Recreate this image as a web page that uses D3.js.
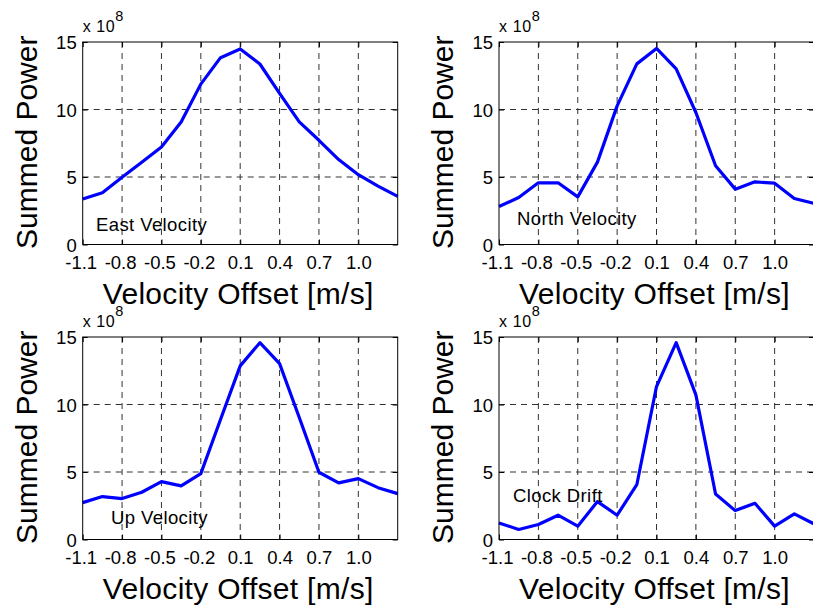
<!DOCTYPE html>
<html>
<head>
<meta charset="utf-8">
<script src="https://cdn.jsdelivr.net/npm/d3@7"></script>
<style>
  html, body { margin: 0; padding: 0; background: #fff; }
  svg { display: block; }
  text { font-family: "Liberation Sans", Arial, Helvetica, sans-serif; fill: #000; }
</style>
</head>
<body>
<svg id="chart" width="813" height="608"></svg>
<script>
// Velocity offsets searched (m/s)
const velocityOffsets = [-1.1, -0.95, -0.8, -0.65, -0.5, -0.35, -0.2, -0.05, 0.1,
                         0.25, 0.4, 0.55, 0.7, 0.85, 1.0, 1.15, 1.3];

// Summed power per offset, in units of 1e8
const eastPower  = [3.37, 3.84, 4.98, 6.10, 7.23, 9.08, 11.88, 13.84, 14.48,
                    13.37, 11.19, 9.08, 7.72, 6.29, 5.17, 4.33, 3.56];
const northPower = [2.81, 3.48, 4.57, 4.57, 3.53, 6.10, 10.27, 13.38, 14.52,
                    13.01, 9.78, 5.83, 4.10, 4.64, 4.54, 3.41, 3.04];
const upPower    = [2.73, 3.18, 3.03, 3.50, 4.29, 3.97, 4.88, 8.89, 12.86,
                    14.58, 13.03, 9.04, 4.98, 4.19, 4.51, 3.84, 3.40];
const clockPower = [1.23, 0.74, 1.11, 1.80, 0.99, 2.81, 1.80, 4.06, 11.33,
                    14.58, 10.71, 3.37, 2.14, 2.68, 0.99, 1.90, 1.16];

const panelNames = ["East Velocity", "North Velocity", "Up Velocity", "Clock Drift"];

// Axis ticks and their printed labels
const xTickValues = [-1.1, -0.8, -0.5, -0.2, 0.1, 0.4, 0.7, 1.0];
const xTickLabels = ["-1.1", "-0.8", "-0.5", "-0.2", "0.1", "0.4", "0.7", "1.0"];
const yTickValues = [0, 5, 10, 15];
const yTickLabels = ["0", "5", "10", "15"];

const xTitle = "Velocity Offset [m/s]";
const yTitle = "Summed Power";

const seriesList = [eastPower, northPower, upPower, clockPower];

// Subplot frames and where each annotation sits inside it
const panels = [
  { left: 82.7, top: 42,  name: panelNames[0], nameX: 96,  nameY: 231 },
  { left: 499,  top: 42,  name: panelNames[1], nameX: 517, nameY: 225 },
  { left: 82.7, top: 337, name: panelNames[2], nameX: 111, nameY: 524 },
  { left: 499,  top: 337, name: panelNames[3], nameX: 513, nameY: 502 }
];
const plotW = 315;
const plotH = 202.5;

const svg = d3.select("#chart");

panels.forEach((p, k) => {
  const g = svg.append("g").attr("transform", `translate(${p.left},${p.top})`);

  const x = d3.scaleLinear().domain([-1.1, 1.3]).range([0, plotW]);
  const y = d3.scaleLinear().domain([0, 15]).range([plotH, 0]);

  // dashed grid
  g.append("g").selectAll("line.vg")
    .data(xTickValues.filter(v => v > -1.1))
    .join("line")
    .attr("x1", d => x(d)).attr("x2", d => x(d))
    .attr("y1", 0).attr("y2", plotH)
    .attr("stroke", "#333").attr("stroke-width", 1)
    .attr("stroke-dasharray", "6,5");
  g.append("g").selectAll("line.hg")
    .data(yTickValues.filter(v => v > 0 && v < 15))
    .join("line")
    .attr("x1", 0).attr("x2", plotW)
    .attr("y1", d => y(d)).attr("y2", d => y(d))
    .attr("stroke", "#333").attr("stroke-width", 1)
    .attr("stroke-dasharray", "6,5");

  // bottom axis: inward ticks, labels below
  const xAxis = d3.axisBottom(x)
    .tickValues(xTickValues)
    .tickSizeInner(-5).tickSizeOuter(0)
    .tickFormat((d, i) => xTickLabels[i]);
  const gx = g.append("g").attr("transform", `translate(0,${plotH})`).call(xAxis);
  gx.attr("font-size", null).attr("font-family", null);
  gx.select(".domain").remove();
  gx.selectAll(".tick line").attr("stroke", "#000");
  gx.selectAll(".tick text")
    .attr("y", 24).attr("dy", null)
    .attr("dx", d => d < 0 ? -2 : 0)
    .style("font-size", "18.5px")
    .attr("fill", "#000");

  // top axis ticks
  const gxt = g.append("g").call(d3.axisTop(x).tickValues(xTickValues)
    .tickSizeInner(-5).tickSizeOuter(0).tickFormat(""));
  gxt.select(".domain").remove();
  gxt.selectAll(".tick line").attr("stroke", "#000");

  // left axis: inward ticks, labels to the left
  const yAxis = d3.axisLeft(y)
    .tickValues(yTickValues)
    .tickSizeInner(-5).tickSizeOuter(0)
    .tickFormat((d, i) => yTickLabels[i]);
  const gy = g.append("g").call(yAxis);
  gy.attr("font-size", null).attr("font-family", null);
  gy.select(".domain").remove();
  gy.selectAll(".tick line").attr("stroke", "#000");
  gy.selectAll(".tick text")
    .attr("x", -6).attr("dy", "0.36em")
    .style("font-size", "18.5px")
    .attr("fill", "#000");

  // right axis ticks
  const gyr = g.append("g").attr("transform", `translate(${plotW},0)`)
    .call(d3.axisRight(y).tickValues(yTickValues).tickSizeInner(-5).tickSizeOuter(0).tickFormat(""));
  gyr.select(".domain").remove();
  gyr.selectAll(".tick line").attr("stroke", "#000");

  // the power curve
  const line = d3.line()
    .x((d, i) => x(velocityOffsets[i]))
    .y(d => y(d));
  g.append("path")
    .datum(seriesList[k])
    .attr("d", line)
    .attr("fill", "none")
    .attr("stroke", "#0000ff")
    .attr("stroke-width", 3.2)
    .attr("stroke-linejoin", "round");

  // plot box
  g.append("rect")
    .attr("x", 0).attr("y", 0)
    .attr("width", plotW).attr("height", plotH)
    .attr("fill", "none").attr("stroke", "#000").attr("stroke-width", 1);

  // panel name
  svg.append("text")
    .attr("x", p.nameX).attr("y", p.nameY)
    .style("font-size", "18.5px")
    .attr("letter-spacing", 0.4)
    .text(p.name);

  // exponent note above the axis
  const ex = svg.append("text")
    .attr("x", p.left).attr("y", p.top - 10.5)
    .style("font-size", "16px")
    .attr("letter-spacing", 0.6);
  ex.append("tspan").text("x 10");
  ex.append("tspan").attr("dy", -11).style("font-size", "14.5px").text("8");

  // axis titles
  svg.append("text")
    .attr("transform", `translate(${p.left - 46},${p.top + plotH / 2 - 1}) rotate(-90)`)
    .attr("text-anchor", "middle")
    .style("font-size", "30px")
    .text(yTitle);
  svg.append("text")
    .attr("x", p.left + plotW / 2 - 2)
    .attr("y", p.top + plotH + 59.5)
    .attr("text-anchor", "middle")
    .style("font-size", "30px")
    .attr("letter-spacing", 0.3)
    .text(xTitle);
});
</script>
</body>
</html>
